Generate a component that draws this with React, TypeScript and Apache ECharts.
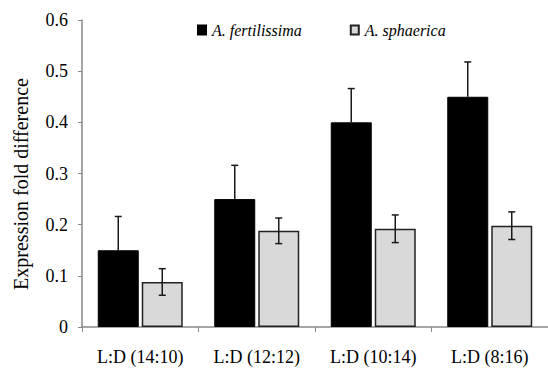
import React, { useEffect, useRef } from "react";
import * as echarts from "echarts";

const categories = ["L:D (14:10)", "L:D (12:12)", "L:D (10:14)", "L:D (8:16)"];
const fertilissima = [0.15, 0.25, 0.4, 0.45];
const fertilissimaErr = [0.066, 0.066, 0.066, 0.068];
const sphaerica = [0.088, 0.188, 0.192, 0.198];
const sphaericaErr = [0.026, 0.025, 0.027, 0.027];
const yTicks = [0, 0.1, 0.2, 0.3, 0.4, 0.5, 0.6];

const FONT = "Liberation Serif";
const BAR_W = 41;
const BAR_GAP = 3;

function errorSeries(values: number[], errs: number[], side: number, upOnly: boolean) {
  return {
    type: "custom",
    silent: true,
    z: 10,
    data: values.map((v, i) => [i, v, errs[i]]),
    encode: { x: 0, y: 1 },
    renderItem: (params: any, api: any) => {
      const i = api.value(0);
      const v = api.value(1);
      const e = api.value(2);
      const top = api.coord([i, v + e]);
      const mid = api.coord([i, v]);
      const bot = api.coord([i, v - e]);
      const x = top[0] + side * (BAR_W + BAR_GAP) / 2;
      const cap = 3.5;
      const style = { stroke: "#1a1a1a", lineWidth: 1.5 };
      const children: any[] = [
        { type: "line", shape: { x1: x, y1: top[1], x2: x, y2: upOnly ? mid[1] : bot[1] }, style },
        { type: "line", shape: { x1: x - cap, y1: top[1], x2: x + cap, y2: top[1] }, style },
      ];
      if (!upOnly) {
        children.push({ type: "line", shape: { x1: x - cap, y1: bot[1], x2: x + cap, y2: bot[1] }, style });
      }
      return { type: "group", children };
    },
  };
}

export default function App() {
  const ref = useRef<HTMLDivElement>(null);
  useEffect(() => {
    if (!ref.current) return;
    const chart = echarts.init(ref.current, null, { renderer: "svg" });
    chart.setOption({
      animation: false,
      backgroundColor: "#ffffff",
      grid: { left: 82, top: 20, width: 474, height: 307 },
      legend: {
        data: ["A. fertilissima", "A. sphaerica"],
        left: 192,
        top: 17,
        icon: "rect",
        itemWidth: 8,
        itemHeight: 9,
        itemGap: 48,
        textStyle: {
          fontFamily: FONT,
          fontStyle: "italic",
          fontSize: 16,
          color: "#000",
          padding: [0, 0, 0, 1],
        },
      },
      graphic: [
        {
          type: "text",
          x: 21,
          y: 184,
          rotation: Math.PI / 2,
          style: {
            text: "Expression fold difference",
            fontFamily: FONT,
            fontSize: 20,
            fill: "#000",
            align: "center",
            verticalAlign: "middle",
          },
        },
      ],
      xAxis: {
        type: "category",
        data: categories,
        axisLine: { lineStyle: { color: "#888", width: 1.5 } },
        axisTick: { show: true, length: 5, lineStyle: { color: "#888" } },
        axisLabel: { fontFamily: FONT, fontSize: 18, color: "#000", margin: 21 },
      },
      yAxis: {
        type: "value",
        min: 0,
        max: 0.6,
        interval: 0.1,
        splitLine: { show: false },
        axisLine: { show: true, lineStyle: { color: "#888", width: 1.5 } },
        axisTick: { show: true, length: 4, lineStyle: { color: "#888" } },
        axisLabel: {
          fontFamily: FONT,
          fontSize: 18,
          color: "#000",
          margin: 14,
          formatter: (v: number) => {
            const t = yTicks.find((k) => Math.abs(k - v) < 1e-9);
            return t === undefined ? "" : String(t);
          },
        },
      },
      series: [
        {
          name: "A. fertilissima",
          type: "bar",
          data: fertilissima,
          barWidth: BAR_W,
          barGap: `${(BAR_GAP / BAR_W) * 100}%`,
          itemStyle: { color: "#000000", borderColor: "#000", borderWidth: 1 },
        },
        {
          name: "A. sphaerica",
          type: "bar",
          data: sphaerica,
          barWidth: BAR_W,
          itemStyle: { color: "#d9d9d9", borderColor: "#222", borderWidth: 1.5 },
        },
        errorSeries(fertilissima, fertilissimaErr, -1, true),
        errorSeries(sphaerica, sphaericaErr, 1, false),
      ],
    });
    return () => chart.dispose();
  }, []);
  return (
    <div
      ref={ref}
      style={{ position: "absolute", left: 0, top: 0, width: 548, height: 368, background: "#fff" }}
    />
  );
}
